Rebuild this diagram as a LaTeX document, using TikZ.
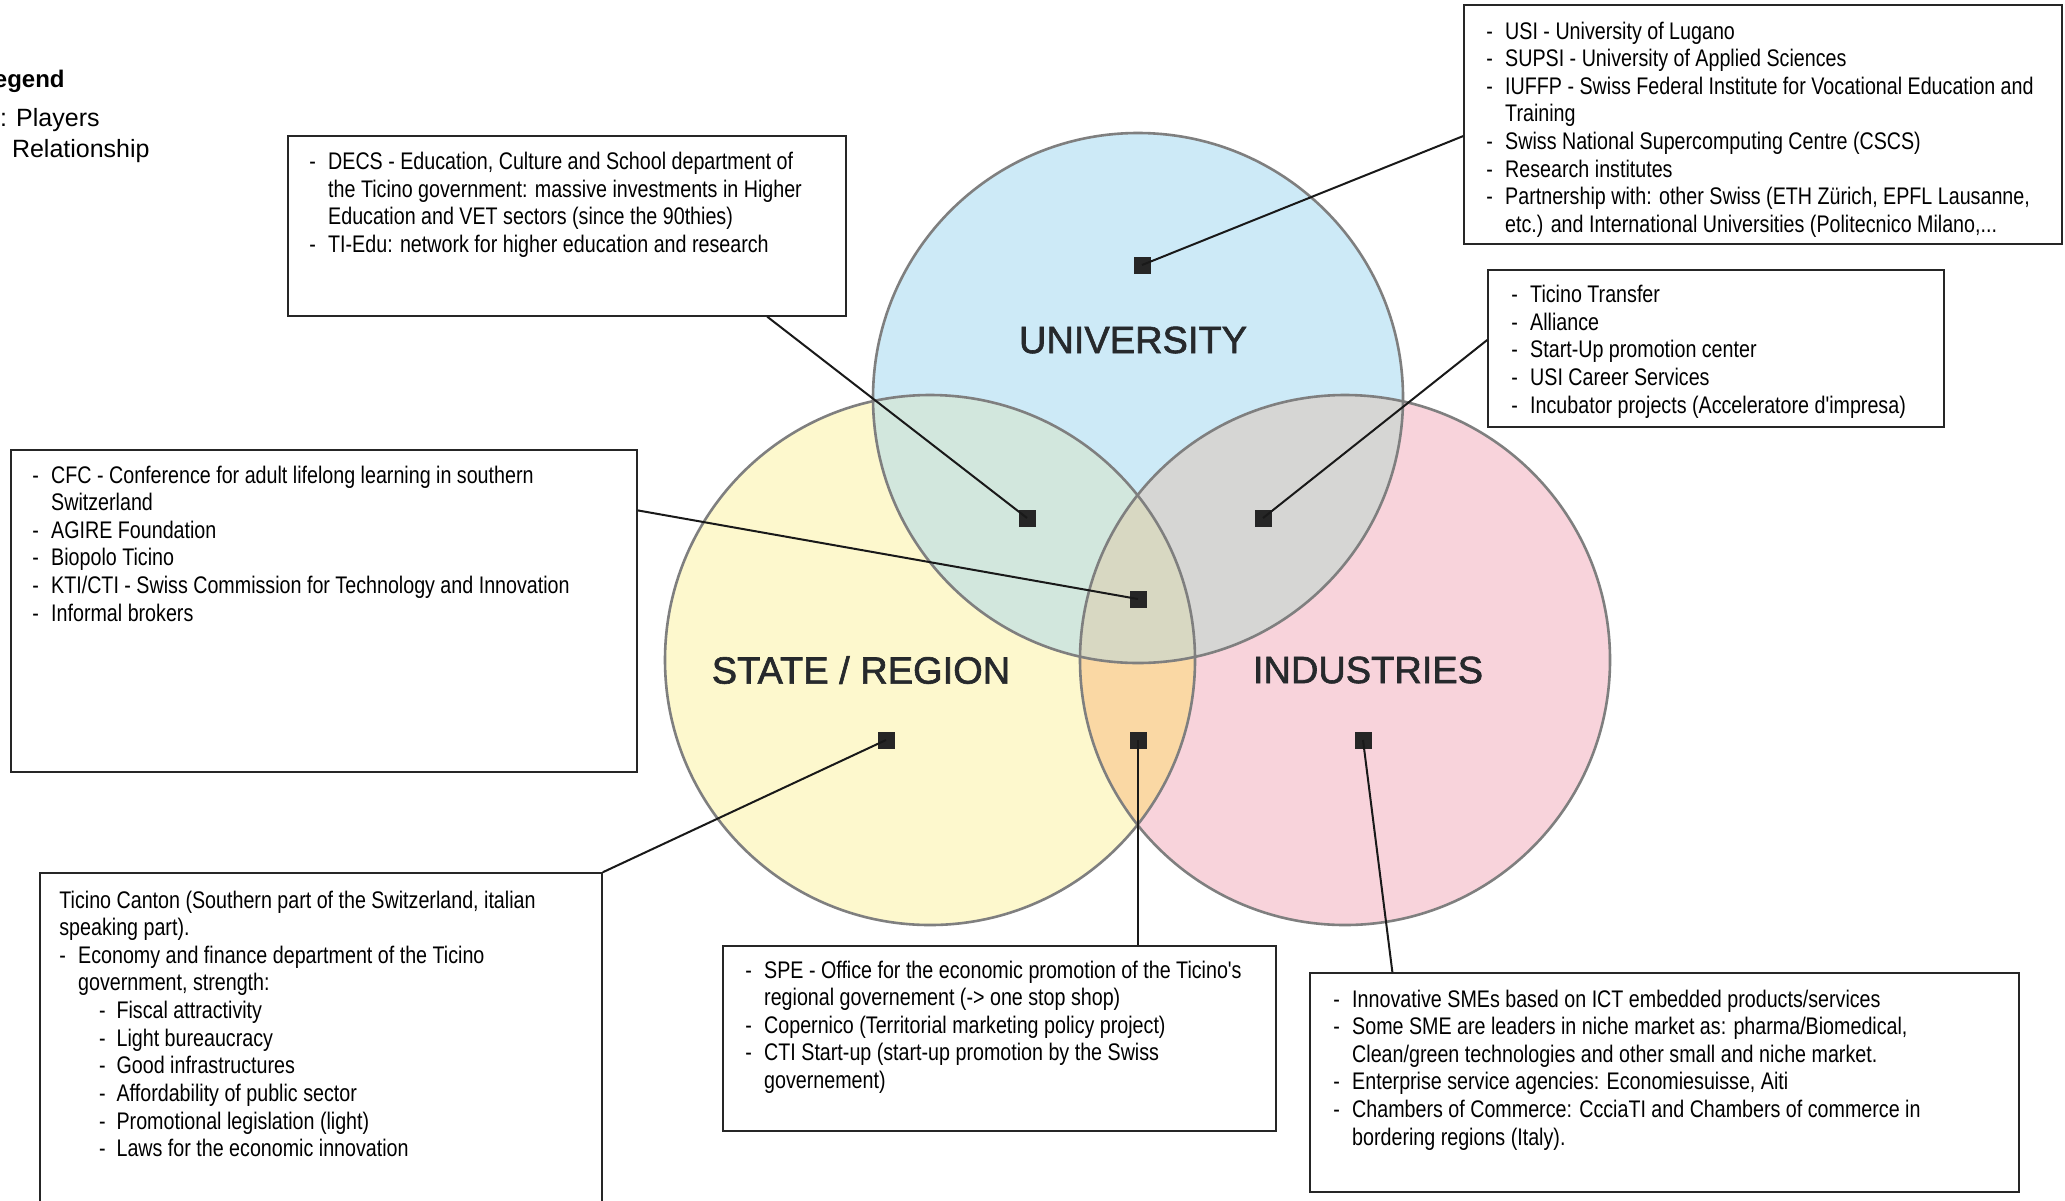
\documentclass[tikz,border=0pt]{standalone}
\usepackage{fontspec}
\setmainfont{Liberation Sans}
\newfontfamily\narrowfont[FakeStretch=0.82]{Liberation Sans}
\newfontfamily\sectorfont[FakeBold=1.6]{Liberation Sans}
\usetikzlibrary{calc,fit}

\definecolor{univblue}{HTML}{CDEAF7}
\definecolor{stateyellow}{HTML}{FDF8CD}
\definecolor{indpink}{HTML}{F8D3DB}
\definecolor{univstate}{HTML}{D2E7DD}
\definecolor{univind}{HTML}{D6D6D4}
\definecolor{stateind}{HTML}{FAD8A4}
\definecolor{allthree}{HTML}{D8D8C2}
\definecolor{vennline}{HTML}{7F7F7F}
\definecolor{sectorink}{HTML}{26292C}

\newcommand{\hy}{\makebox[9.4pt][l]{-}}
\newcommand{\hin}{\hspace*{9.4pt}}
\newcommand{\hyy}{\hspace*{19.8pt}\makebox[8.8pt][l]{-}}

\begin{document}
\begin{tikzpicture}[x=0.5pt, y=-0.5pt,
    venn/.style={draw=vennline, line width=1.3pt},
    box/.style={draw=black!85, line width=0.75pt, inner sep=0pt},
    txt/.style={anchor=base west, inner sep=0pt, font=\narrowfont\fontsize{12}{13.83}\selectfont},
    player/.style={fill=black!85, inner sep=0pt, minimum size=8.5pt},
    link/.style={line width=1pt, black!90},
    sector/.style={font=\sectorfont\fontsize{19}{22}\selectfont, text=sectorink},
    legend/.style={anchor=base east, inner sep=0pt, font=\fontsize{12.5}{15}\selectfont}]
	% Canvas
	\useasboundingbox (0,0) rectangle (2065,1200);
	\clip (0,0) rectangle (2065,1200);
	\fill[white] (0,0) rectangle (2065,1200);
	
	% Circle centres
	\coordinate (cU) at (1138,398);
	\coordinate (cS) at (930,660);
	\coordinate (cI) at (1345,660);
	
	% Fill circles
	\fill[univblue] (cU) circle (265);
	\fill[stateyellow] (cS) circle (265);
	\fill[indpink] (cI) circle (265);
	
	% Fill overlaps
	\begin{scope}
		\clip (cU) circle (265);
		\fill[univstate] (cS) circle (265);
	\end{scope}
	\begin{scope}
		\clip (cU) circle (265);
		\fill[univind] (cI) circle (265);
	\end{scope}
	\begin{scope}
		\clip (cS) circle (265);
		\fill[stateind] (cI) circle (265);
	\end{scope}
	\begin{scope}
		\clip (cU) circle (265);
		\clip (cS) circle (265);
		\fill[allthree] (cI) circle (265);
	\end{scope}
	
	% Outlines
	\foreach \c in {cU,cS,cI}
	\draw[venn] (\c) circle (265);
	
	% Sector names
	\node[sector] (univlabel) at (1133,340) {UNIVERSITY};
	\node[sector] (statelabel) at (861,670) {STATE / REGION};
	\node[sector] (indlabel) at (1368,670) {INDUSTRIES};
	
	% Players
	\node[player] (pU) at (1142,265) {};
	\node[player] (pUS) at (1027,518) {};
	\node[player] (pUI) at (1263,518) {};
	\node[player] (pUSI) at (1138,599) {};
	\node[player] (pS) at (886,740) {};
	\node[player] (pSI) at (1138,740) {};
	\node[player] (pI) at (1363,740) {};
	
	% Boxes
	\node[box, fit={(288,136) (846,316)}] (decsbox) {};
	\node[box, fit={(1464,5) (2062,244)}] (univbox) {};
	\node[box, fit={(1488,270) (1944,427)}] (ttbox) {};
	\node[box, fit={(11,450) (637,772)}] (cfcbox) {};
	\node[box, fit={(40,873) (602,1215)}] (cantonbox) {};
	\node[box, fit={(723,946) (1276,1131)}] (spebox) {};
	\node[box, fit={(1310,973) (2019,1192)}] (indbox) {};
	
	% Box texts
	\node[txt] (decstxt) at (309,169.5) {\begin{tabular}[t]{@{}l@{}}
		\hy DECS - Education, Culture and School department of\\
		\hin the Ticino government: massive investments in Higher\\
		\hin Education and VET sectors (since the 90thies)\\
		\hy TI-Edu: network for higher education and research
	\end{tabular}};
	\node[txt] (univtxt) at (1486,39) {\begin{tabular}[t]{@{}l@{}}
		\hy USI - University of Lugano\\
		\hy SUPSI - University of Applied Sciences\\
		\hy IUFFP - Swiss Federal Institute for Vocational Education and\\
		\hin Training\\
		\hy Swiss National Supercomputing Centre (CSCS)\\
		\hy Research institutes\\
		\hy Partnership with: other Swiss (ETH Zürich, EPFL Lausanne,\\
		\hin etc.) and International Universities (Politecnico Milano,...
	\end{tabular}};
	\node[txt] (tttxt) at (1511,302.5) {\begin{tabular}[t]{@{}l@{}}
		\hy Ticino Transfer\\
		\hy Alliance\\
		\hy Start-Up promotion center\\
		\hy USI Career Services\\
		\hy Incubator projects (Acceleratore d'impresa)
	\end{tabular}};
	\node[txt] (cfctxt) at (32,483) {\begin{tabular}[t]{@{}l@{}}
		\hy CFC - Conference for adult lifelong learning in southern\\
		\hin Switzerland\\
		\hy AGIRE Foundation\\
		\hy Biopolo Ticino\\
		\hy KTI/CTI - Swiss Commission for Technology and Innovation\\
		\hy Informal brokers
	\end{tabular}};
	\node[txt] (cantontxt) at (59,908) {\begin{tabular}[t]{@{}l@{}}
		Ticino Canton (Southern part of the Switzerland, italian\\
		speaking part).\\
		\hy Economy and finance department of the Ticino\\
		\hin government, strength:\\
		\hyy Fiscal attractivity\\
		\hyy Light bureaucracy\\
		\hyy Good infrastructures\\
		\hyy Affordability of public sector\\
		\hyy Promotional legislation (light)\\
		\hyy Laws for the economic innovation
	\end{tabular}};
	\node[txt] (spetxt) at (745,978) {\begin{tabular}[t]{@{}l@{}}
		\hy SPE - Office for the economic promotion of the Ticino's\\
		\hin regional governement (-> one stop shop)\\
		\hy Copernico (Territorial marketing policy project)\\
		\hy CTI Start-up (start-up promotion by the Swiss\\
		\hin governement)
	\end{tabular}};
	\node[txt] (indtxt) at (1333,1007) {\begin{tabular}[t]{@{}l@{}}
		\hy Innovative SMEs based on ICT embedded products/services\\
		\hy Some SME are leaders in niche market as: pharma/Biomedical,\\
		\hin Clean/green technologies and other small and niche market.\\
		\hy Enterprise service agencies: Economiesuisse, Aiti\\
		\hy Chambers of Commerce: CcciaTI and Chambers of commerce in\\
		\hin bordering regions (Italy).
	\end{tabular}};
	
	% Relationships
	\draw[link] (pU.center) -- ($(univbox.north west)!0.548!(univbox.south west)$);
	\draw[link] (pUS.center) -- ($(decsbox.south west)!0.858!(decsbox.south east)$);
	\draw[link] (pUI.center) -- ($(ttbox.north west)!0.446!(ttbox.south west)$);
	\draw[link] (pUSI.center) -- ($(cfcbox.north east)!0.189!(cfcbox.south east)$);
	\draw[link] (pS.center) -- (cantonbox.north east);
	\draw[link] (pSI.center) -- (pSI.center |- spebox.north);
	\draw[link] (pI.center) -- ($(indbox.north west)!0.117!(indbox.north east)$);
	
	% Legend
	\node[legend, font=\bfseries\fontsize{12}{14}\selectfont] (legtitle) at (65,87) {Legend};
	\node[legend] (legplayers) at (100,126) {: Players};
	\node[legend] (legrel) at (150,157) {Relationship};
\end{tikzpicture}
\end{document}
